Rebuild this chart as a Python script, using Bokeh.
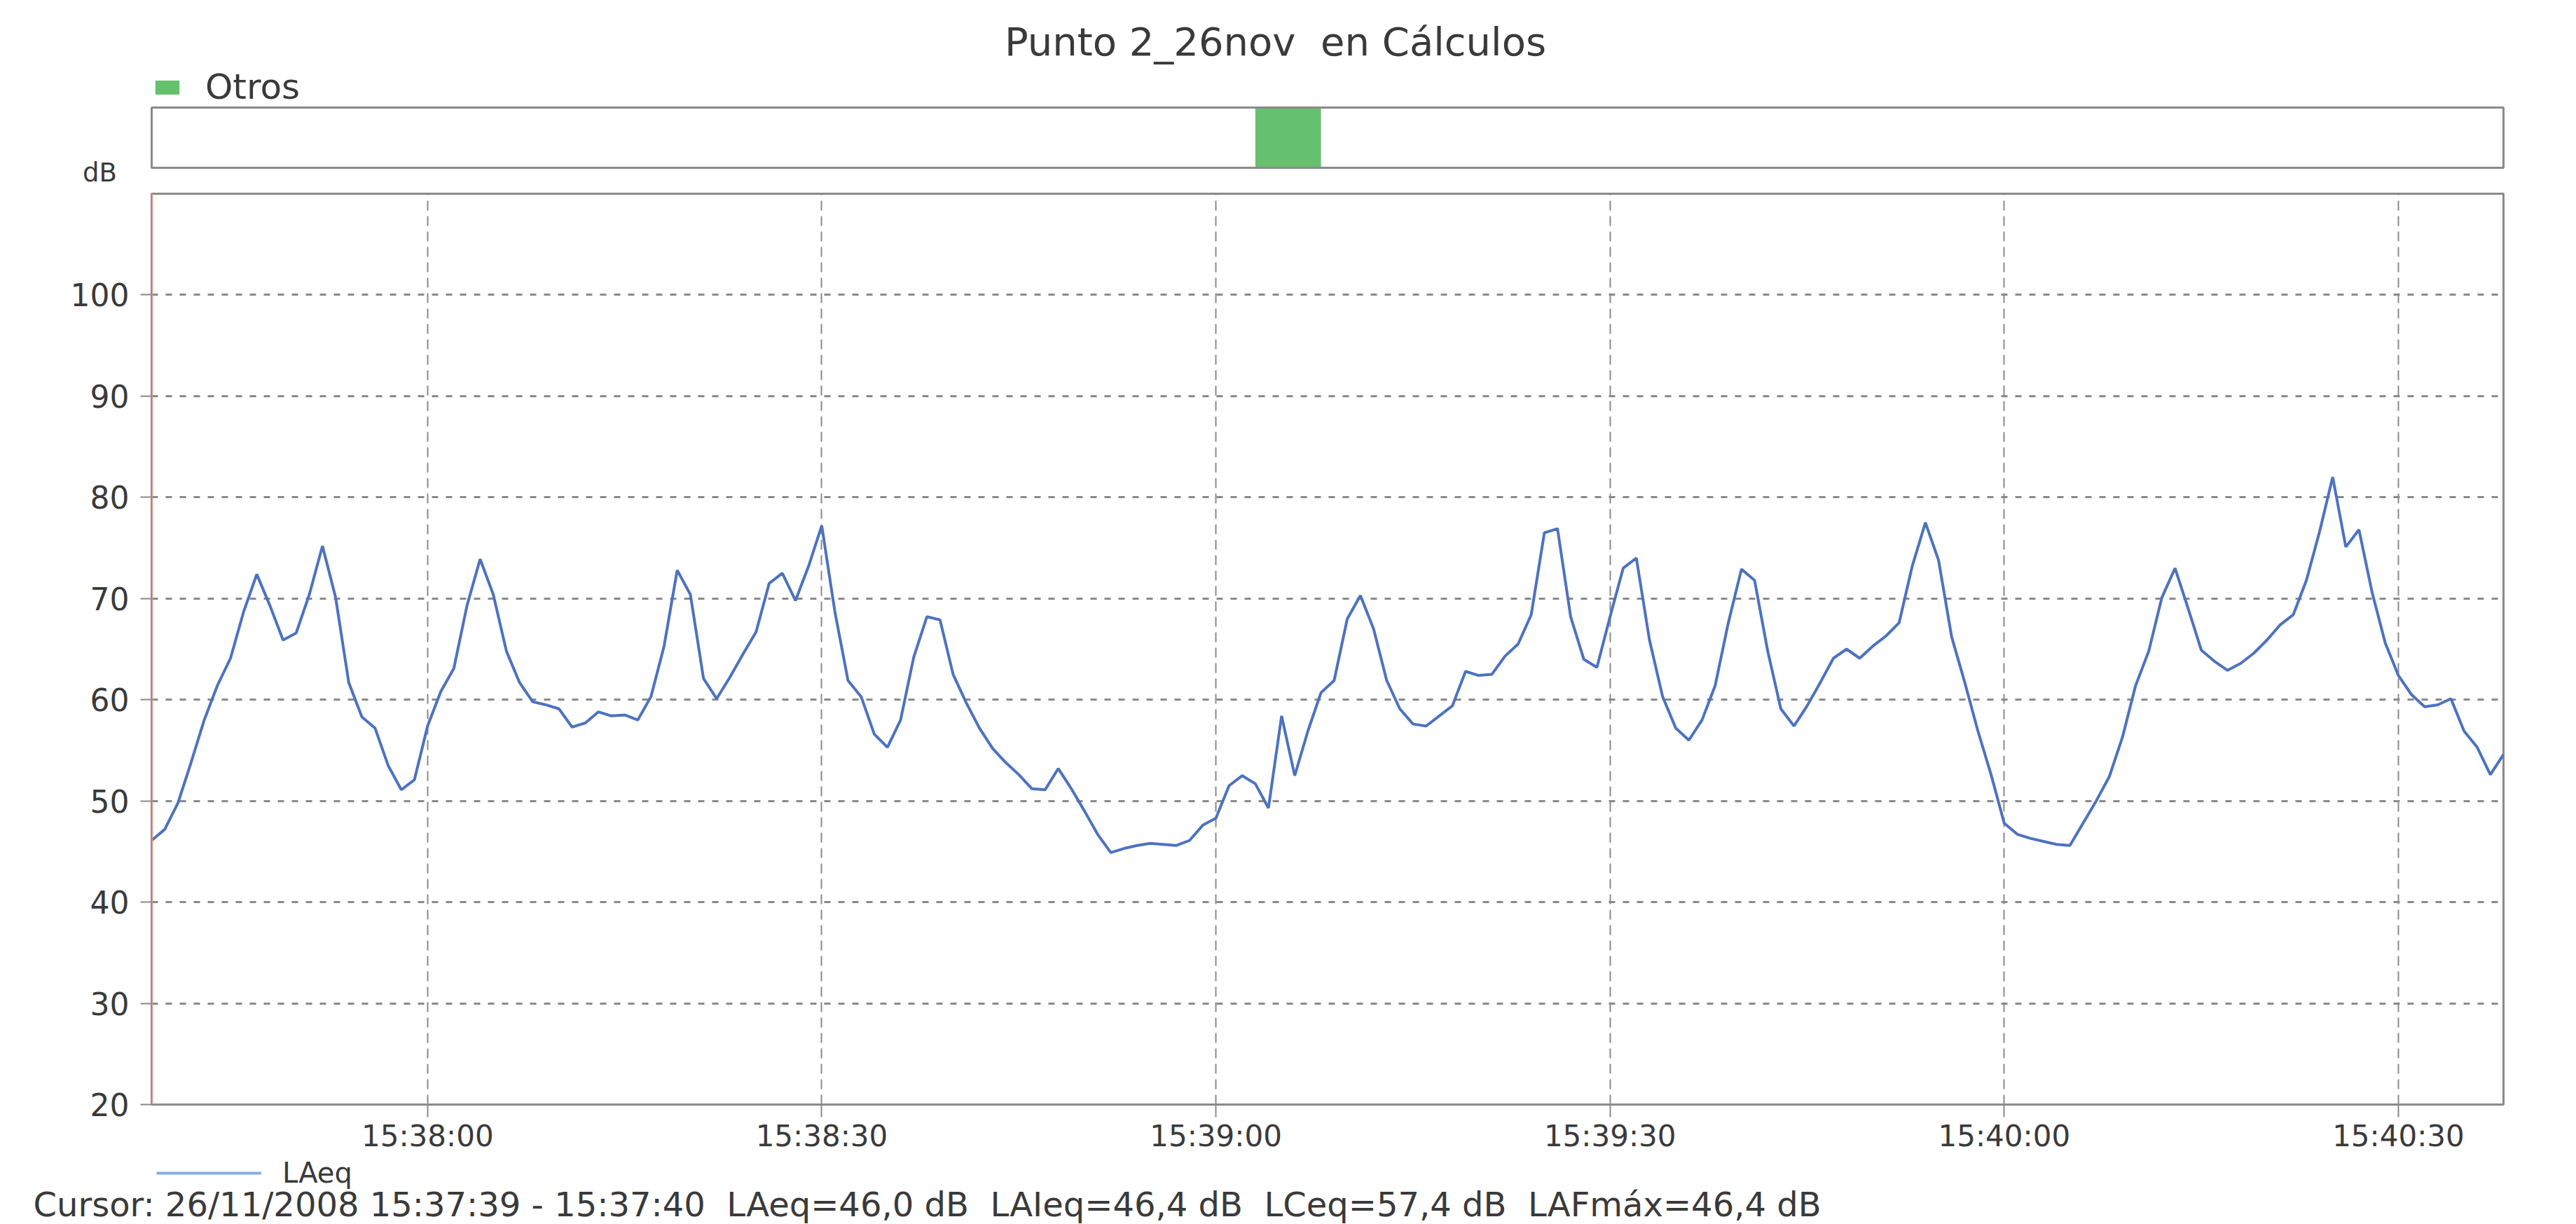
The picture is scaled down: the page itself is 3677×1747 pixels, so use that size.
import pandas as pd
from bokeh.plotting import figure
from bokeh.layouts import column
from bokeh.models import (Range1d, FixedTicker, DatetimeTickFormatter, Label,
                          Legend, LegendItem, Span, ColumnDataSource)
from bokeh.embed import file_html
from bokeh.resources import INLINE

# ---------------- data ----------------
title_text = "Punto 2_26nov\u00a0 en Cálculos"
start_time = "2008-11-26 15:37:39"
end_time = "2008-11-26 15:40:38"
laeq = [
    46.1, 47.2, 49.8, 53.8, 58.0, 61.4, 64.1, 68.7, 72.4, 69.3,
    65.9, 66.6, 70.4, 75.2, 70.1, 61.7, 58.3, 57.2, 53.5, 51.1,
    52.1, 57.4, 60.8, 63.1, 69.3, 73.9, 70.4, 64.8, 61.7, 59.8,
    59.5, 59.1, 57.3, 57.7, 58.8, 58.4, 58.5, 58.0, 60.3, 65.3,
    72.8, 70.4, 62.1, 60.1, 62.2, 64.5, 66.7, 71.5, 72.5, 69.8,
    73.2, 77.2, 68.7, 61.9, 60.3, 56.6, 55.3, 58.0, 64.2, 68.2,
    67.9, 62.5, 59.7, 57.2, 55.2, 53.8, 52.6, 51.2, 51.1, 53.2,
    51.2, 49.0, 46.7, 44.9, 45.3, 45.6, 45.8, 45.7, 45.6, 46.1,
    47.6, 48.3, 51.5, 52.5, 51.7, 49.3, 58.4, 52.5, 56.9, 60.7,
    61.9, 68.0, 70.3, 67.0, 61.9, 59.1, 57.6, 57.4, 58.4, 59.4,
    62.8, 62.4, 62.5, 64.3, 65.5, 68.4, 76.5, 76.9, 68.2, 64.0,
    63.2, 68.2, 73.0, 74.0, 65.9, 60.3, 57.2, 56.0, 58.0, 61.4,
    67.6, 72.9, 71.8, 64.8, 59.1, 57.4, 59.4, 61.7, 64.1, 65.0,
    64.1, 65.3, 66.3, 67.6, 73.2, 77.5, 73.8, 66.2, 61.7, 56.9,
    52.6, 47.8, 46.7, 46.3, 46.0, 45.7, 45.6, 47.8, 50.0, 52.4,
    56.3, 61.4, 64.8, 70.1, 73.0, 69.0, 64.9, 63.8, 62.9, 63.6,
    64.6, 65.9, 67.4, 68.4, 71.8, 76.6, 82.0, 75.1, 76.8, 70.6,
    65.6, 62.4, 60.5, 59.3, 59.5, 60.1, 56.9, 55.3, 52.6, 54.6,
]
series_name = "LAeq"
band_name = "Otros"
otros_start = ["2008-11-26 15:39:03"]
otros_end = ["2008-11-26 15:39:08"]
band_bottom = [0]
band_top = [1]
x_tick_labels = ["15:38:00", "15:38:30", "15:39:00", "15:39:30", "15:40:00", "15:40:30"]
y_ticks = [20, 30, 40, 50, 60, 70, 80, 90, 100]
y_min, y_max = 20, 110
y_unit = "dB"
cursor_text = ("Cursor: 26/11/2008 15:37:39 - 15:37:40\u00a0 LAeq=46,0 dB\u00a0 "
               "LAIeq=46,4 dB\u00a0 LCeq=57,4 dB\u00a0 LAFmáx=46,4 dB")

# ---------------- styling / layout ----------------
FONT = "DejaVu Sans"
TXT = "#3a3a3a"
GRID = "#8a8a8a"
LINE = "#4d72c0"
LEG_LINE = "#80b0e0"
GREEN = "#66c16f"
CURSOR = "#ec8a76"

TOTAL_W = 3677
FRAME_W = 3357
BORDER_L = 216
BORDER_R = TOTAL_W - FRAME_W - BORDER_L   # 104
HDR_H = 274          # header canvas: title, legend, band box, unit
BAND_LO = 35         # band box bottom, px above header bottom
BAND_H = 86
MAIN_TOP = 2
MAIN_FRAME_H = 1300
MAIN_BOTTOM = 73
FTR_H = 1747 - HDR_H - MAIN_TOP - MAIN_FRAME_H - MAIN_BOTTOM   # 98


def ms(ts):
    return pd.Timestamp(ts).value / 1e6


day = start_time.split(" ")[0]
t0, t1 = ms(start_time), ms(end_time)
ms_per_px = (t1 - t0) / FRAME_W
times = pd.date_range(start_time, periods=len(laeq), freq="s")
src = ColumnDataSource(dict(t=times, v=laeq))


def bare(fig):
    fig.grid.visible = False
    fig.outline_line_color = None
    fig.min_border_left = fig.min_border_right = 0
    fig.min_border_top = fig.min_border_bottom = 0
    if "frame_align" in fig.properties():
        fig.frame_align = False
    return fig


# ---------------- header: title, legend, band, unit ----------------
hdr = figure(width=TOTAL_W, height=HDR_H,
             x_range=Range1d(t0 - BORDER_L * ms_per_px, t1 + BORDER_R * ms_per_px),
             y_range=Range1d(-BAND_LO / BAND_H, (HDR_H - BAND_LO) / BAND_H),
             x_axis_location=None, y_axis_location=None,
             output_backend="svg", toolbar_location=None,
             background_fill_color="white", border_fill_color="white")
bare(hdr)

band = hdr.quad(left=[ms(t) for t in otros_start], right=[ms(t) for t in otros_end],
                bottom=band_bottom, top=band_top, fill_color=GREEN, line_color=None)
hdr.quad(left=[t0], right=[t1], bottom=band_bottom, top=band_top,
         fill_color=None, line_color=GRID, line_width=3)

hdr_leg = Legend(items=[LegendItem(label=band_name, renderers=[band])],
                 location=(217, 121), orientation="horizontal",
                 glyph_width=43, glyph_height=25, label_height=25,
                 label_standoff=33, padding=0, margin=0, spacing=0,
                 border_line_color=None, background_fill_alpha=0,
                 label_text_font=FONT, label_text_font_size="50px",
                 label_text_color=TXT)
hdr.add_layout(hdr_leg, "center")

hdr.add_layout(Label(x=1820, y=HDR_H - 59, x_units="screen", y_units="screen",
                     text=title_text, text_align="center", text_baseline="middle",
                     text_font=FONT, text_font_size="56px", text_color=TXT))
hdr.add_layout(Label(x=142, y=28, x_units="screen", y_units="screen",
                     text=y_unit, text_align="center", text_baseline="middle",
                     text_font=FONT, text_font_size="37px", text_color=TXT))

# ---------------- main chart ----------------
p = figure(x_range=Range1d(t0, t1), y_range=Range1d(y_min, y_max),
           x_axis_type="datetime",
           frame_width=FRAME_W, frame_height=MAIN_FRAME_H,
           min_border_left=BORDER_L, min_border_right=BORDER_R,
           min_border_top=MAIN_TOP, min_border_bottom=MAIN_BOTTOM,
           output_backend="svg", toolbar_location=None,
           background_fill_color="white", border_fill_color="white")

xticks = [ms(day + " " + t) for t in x_tick_labels]
p.xaxis.ticker = FixedTicker(ticks=xticks)
fmt = "%H:%M:%S"
p.xaxis.formatter = DatetimeTickFormatter(seconds=fmt, minsec=fmt, minutes=fmt,
                                          hourmin=fmt, hours=fmt, milliseconds=fmt,
                                          context=None)
p.yaxis.ticker = FixedTicker(ticks=y_ticks)

for ax in (p.xaxis[0], p.yaxis[0]):
    ax.major_label_text_font = FONT
    ax.major_label_text_color = TXT
    ax.minor_tick_line_color = None
    ax.major_tick_in = 0
    ax.major_tick_line_color = GRID
    ax.major_tick_line_width = 2

p.xaxis.major_label_text_font_size = "42px"
p.yaxis.major_label_text_font_size = "44px"
p.xaxis.axis_line_color = GRID
p.xaxis.axis_line_width = 3
p.xaxis.major_tick_out = 18
p.xaxis.major_label_standoff = 2
p.yaxis.axis_line_color = None
p.yaxis.major_tick_out = 16
p.yaxis.major_label_standoff = 16

p.xgrid.ticker = FixedTicker(ticks=xticks)
p.xgrid.grid_line_color = GRID
p.xgrid.grid_line_dash = "14 8"
p.xgrid.grid_line_width = 2
p.ygrid.ticker = FixedTicker(ticks=y_ticks)
p.ygrid.grid_line_color = GRID
p.ygrid.grid_line_dash = "9 11"
p.ygrid.grid_line_width = 3

p.outline_line_color = GRID
p.outline_line_width = 3

p.add_layout(Span(location=t0, dimension="height", line_color=CURSOR, line_width=3))
p.line(x="t", y="v", source=src, line_color=LINE, line_width=4)

# ---------------- footer: legend and cursor read-out ----------------
ftr = figure(width=TOTAL_W, height=FTR_H, x_range=Range1d(0, 1), y_range=Range1d(0, 1),
             x_axis_location=None, y_axis_location=None,
             output_backend="svg", toolbar_location=None,
             background_fill_color="white", border_fill_color="white")
bare(ftr)
# legend key for the series (same data, out of this strip's view)
leg_key = ftr.line(x="t", y="v", source=src, line_color=LEG_LINE, line_width=4)
ftr_leg = Legend(items=[LegendItem(label=series_name, renderers=[leg_key])],
                 location=(223, FTR_H - 50), orientation="horizontal",
                 glyph_width=150, glyph_height=50, label_height=50,
                 label_standoff=30, padding=0, margin=0, spacing=0,
                 border_line_color=None, background_fill_alpha=0,
                 label_text_font=FONT, label_text_font_size="40px",
                 label_text_color=TXT)
ftr.add_layout(ftr_leg, "center")
ftr.add_layout(Label(x=47, y=29, x_units="screen", y_units="screen",
                     text=cursor_text, text_align="left", text_baseline="middle",
                     text_font=FONT, text_font_size="48px", text_color=TXT))

layout = column(hdr, p, ftr, spacing=0)
open("out.html", "w").write(file_html(layout, INLINE))
